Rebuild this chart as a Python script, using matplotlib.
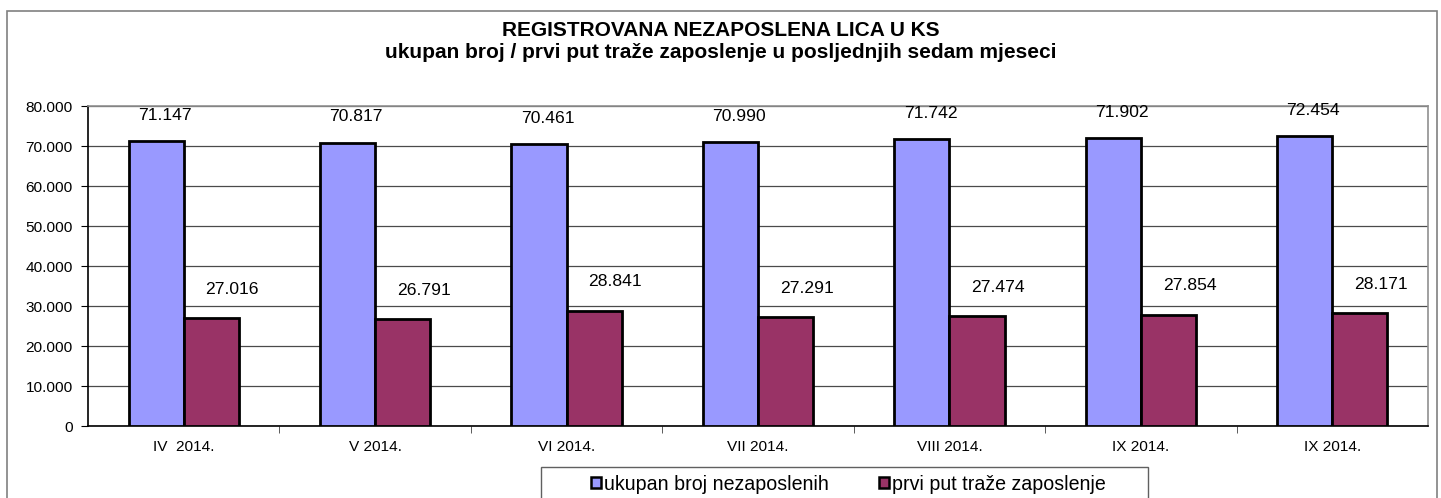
import matplotlib
matplotlib.use("Agg")
import matplotlib.pyplot as plt
from matplotlib import font_manager
from matplotlib.patches import Rectangle, Patch
from matplotlib.ticker import FixedLocator, FuncFormatter
import numpy as np

categories = ["IV  2014.", "V 2014.", "VI 2014.", "VII 2014.", "VIII 2014.", "IX 2014.", "IX 2014."]
ukupan = [71147, 70817, 70461, 70990, 71742, 71902, 72454]
prvi_put = [27016, 26791, 28841, 27291, 27474, 27854, 28171]
series_names = ["ukupan broj nezaposlenih", "prvi put traže zaposlenje"]
title_line1 = "REGISTROVANA NEZAPOSLENA LICA U KS"
title_line2 = "ukupan broj / prvi put traže zaposlenje u posljednjih sedam mjeseci"

names = {f.name for f in font_manager.fontManager.ttflist}
base = "Liberation Sans" if "Liberation Sans" in names else "DejaVu Sans"
plt.rcParams['font.family'] = [base, 'DejaVu Sans']

W, H = 1441, 498
fig = plt.figure(figsize=(W / 100, H / 100), dpi=100)

def fx(px):
    return px / W

def fy(py):
    return 1 - py / H

# outer chart border
fig.patches.append(Rectangle((fx(7), fy(520)), fx(1437) - fx(7), fy(11) - fy(520),
                             transform=fig.transFigure, fill=False,
                             edgecolor="#808080", lw=1.2, zorder=0))

ax = fig.add_axes([fx(88), fy(426), fx(1428) - fx(88), fy(106) - fy(426)])

x = np.arange(len(categories))
bw = 0.288
c_blue = "#9999FF"
c_red = "#993366"
ax.bar(x - bw / 2, ukupan, width=bw, color=c_blue, edgecolor="black", linewidth=2, zorder=3)
ax.bar(x + bw / 2, prvi_put, width=bw, color=c_red, edgecolor="black", linewidth=2, zorder=3)

def fmt(v):
    return f"{v:,}".replace(",", ".")

for i in range(len(categories)):
    ax.text(x[i] - bw / 2 + 0.045, ukupan[i] + 6500, fmt(ukupan[i]), ha="center", va="center",
            fontsize=12.6, zorder=4)
    ax.text(x[i] + bw / 2 + 0.11, prvi_put[i] + 7200, fmt(prvi_put[i]), ha="center", va="center",
            fontsize=12.6, zorder=4)

ax.set_xlim(-0.5, len(categories) - 0.5)
ax.set_ylim(0, 80000)
yt = np.arange(0, 80001, 10000)
ax.set_yticks(yt)
ax.yaxis.set_major_formatter(FuncFormatter(lambda v, p: "0" if v == 0 else fmt(int(v))))
ax.grid(axis="y", color="#4a4a4a", lw=0.9, zorder=1)
ax.set_axisbelow(True)

ax.set_xticks(x)
ax.set_xticklabels(categories)
ax.xaxis.set_minor_locator(FixedLocator(np.arange(0.5, len(categories) - 0.5, 1)))
ax.tick_params(axis="x", which="major", length=0, pad=10, labelsize=11.1)
ax.tick_params(axis="x", which="minor", length=5, direction="out", color="#404040")
ax.tick_params(axis="y", length=5, direction="out", labelsize=11.1, pad=6)

for s in ["left", "bottom"]:
    ax.spines[s].set_color("black")
    ax.spines[s].set_linewidth(1.2)
for s in ["top", "right"]:
    ax.spines[s].set_color("#909090")
    ax.spines[s].set_linewidth(1.2)

fig.text(0.5, fy(31), title_line1, ha="center", va="center", fontsize=15, fontweight="bold")
fig.text(0.5, fy(53), title_line2, ha="center", va="center", fontsize=15, fontweight="bold")

# legend box
fig.patches.append(Rectangle((fx(541), fy(520)), fx(1148) - fx(541), fy(467) - fy(520),
                             transform=fig.transFigure, fill=False,
                             edgecolor="#606060", lw=1.0, zorder=5))
lfs = 14.1
em = lfs * 100 / 72
handles = [Patch(facecolor=c_blue, edgecolor="black", lw=1.8),
           Patch(facecolor=c_red, edgecolor="black", lw=1.8)]
fig.legend(handles, series_names, loc="center left", bbox_to_anchor=(fx(591), fy(484)),
           ncol=2, frameon=False, fontsize=lfs, handlelength=10 / em, handleheight=9 / em,
           handletextpad=3 / em, columnspacing=50 / em, borderpad=0, borderaxespad=0)

fig.savefig("out.png", dpi=100)
